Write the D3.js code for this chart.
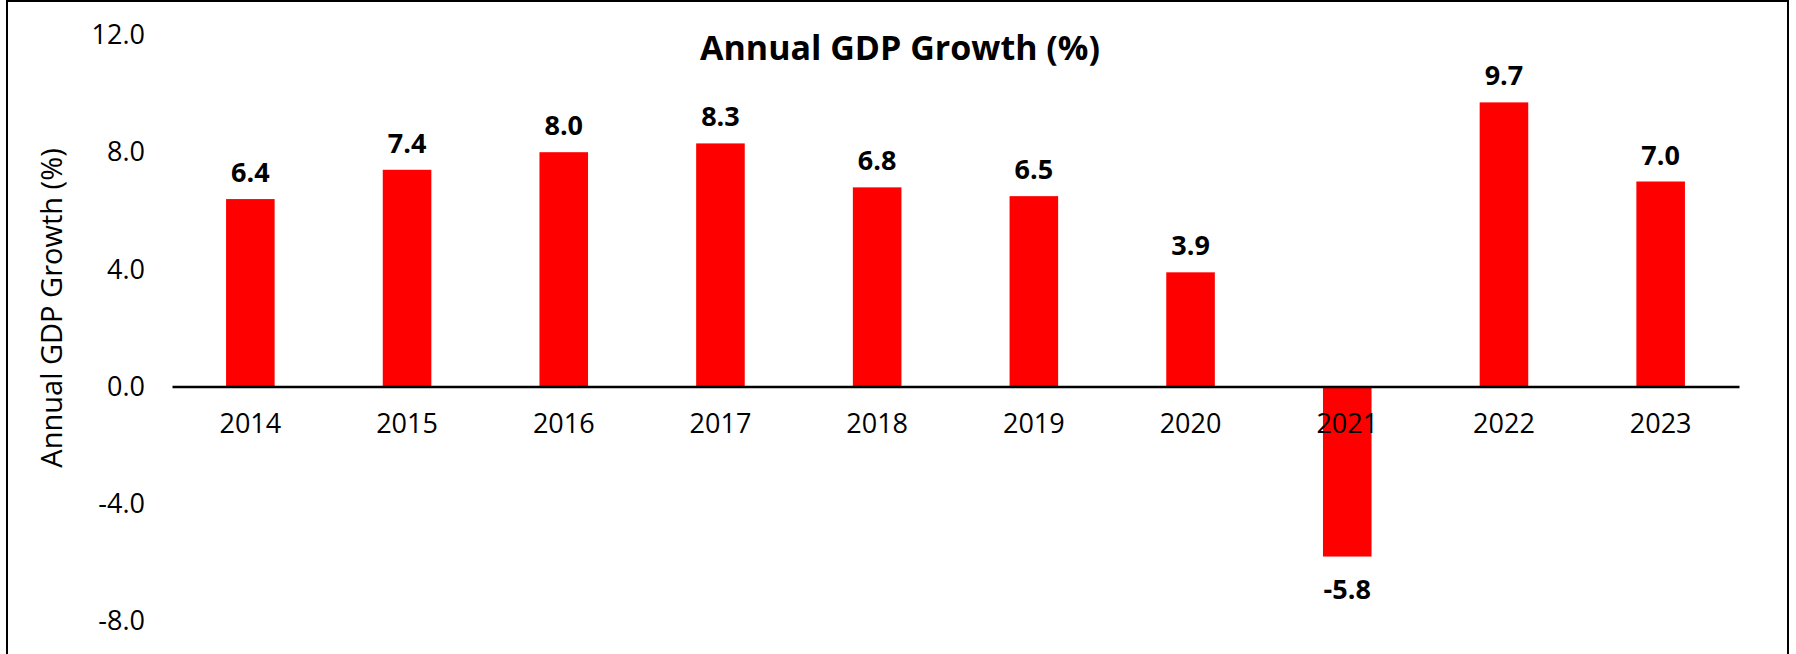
<!DOCTYPE html>
<html>
<head>
<meta charset="utf-8">
<script src="https://cdn.jsdelivr.net/npm/d3@7"></script>
<style>
  body { margin: 0; background: #fff; }
  svg text { font-family: "Open Sans", "Noto Sans", sans-serif; }
</style>
</head>
<body>
<svg id="chart" width="1796" height="654"></svg>
<script>
var years = ["2014", "2015", "2016", "2017", "2018", "2019", "2020", "2021", "2022", "2023"];
var growth = [6.4, 7.4, 8.0, 8.3, 6.8, 6.5, 3.9, -5.8, 9.7, 7.0];
var yTicks = [-8, -4, 0, 4, 8, 12];

// plain hyphen for negatives, like the original
function fmt(d) { return d3.format(".1f")(d).replace("\u2212", "-"); }

var svg = d3.select("#chart");

// outer frame
svg.append("rect")
    .attr("x", 7).attr("y", 1)
    .attr("width", 1781).attr("height", 670)
    .attr("fill", "none")
    .attr("stroke", "#000")
    .attr("stroke-width", 2);

var x = d3.scaleBand()
    .domain(years)
    .range([172, 1739])
    .paddingInner(0.69)
    .paddingOuter(0.345);

var y = d3.scaleLinear()
    .domain([-8, 12])
    .range([621, 35]);

// y tick labels (no axis line)
var yAxis = d3.axisLeft(y)
    .tickValues(yTicks)
    .tickSize(0)
    .tickPadding(0)
    .tickFormat(fmt);

svg.append("g")
    .attr("transform", "translate(145,0)")
    .call(yAxis)
    .call(function(g) { g.select(".domain").remove(); })
    .selectAll("text")
    .attr("font-family", "Open Sans")
    .attr("font-size", 27)
    .attr("fill", "#000");

// bars
svg.append("g").selectAll("rect")
    .data(growth)
    .enter().append("rect")
    .attr("x", function(d, i) { return x(years[i]); })
    .attr("y", function(d) { return y(Math.max(0, d)); })
    .attr("width", x.bandwidth())
    .attr("height", function(d) { return Math.abs(y(d) - y(0)); })
    .attr("fill", "#ff0000");

// zero axis with category labels
var xAxis = d3.axisBottom(x)
    .tickSize(0)
    .tickPadding(27);

var xg = svg.append("g")
    .attr("transform", "translate(0," + y(0) + ")")
    .call(xAxis);
xg.select(".domain").attr("stroke", "#000").attr("stroke-width", 2.5);
xg.selectAll("text")
    .attr("font-family", "Open Sans")
    .attr("font-size", 27)
    .attr("fill", "#000");

// value labels
svg.append("g").selectAll("text")
    .data(growth)
    .enter().append("text")
    .attr("x", function(d, i) { return x(years[i]) + x.bandwidth() / 2; })
    .attr("y", function(d) { return d >= 0 ? y(d) - 17 : y(d) + 42; })
    .attr("text-anchor", "middle")
    .attr("font-size", 27)
    .attr("font-weight", "bold")
    .attr("fill", "#000")
    .text(fmt);

// title
svg.append("text")
    .attr("x", 900)
    .attr("y", 60)
    .attr("text-anchor", "middle")
    .attr("font-size", 34)
    .attr("font-weight", "bold")
    .attr("fill", "#000")
    .text("Annual GDP Growth (%)");

// y axis title
svg.append("text")
    .attr("transform", "translate(62,308) rotate(-90)")
    .attr("text-anchor", "middle")
    .attr("font-size", 29)
    .attr("fill", "#000")
    .text("Annual GDP Growth (%)");
</script>
</body>
</html>
